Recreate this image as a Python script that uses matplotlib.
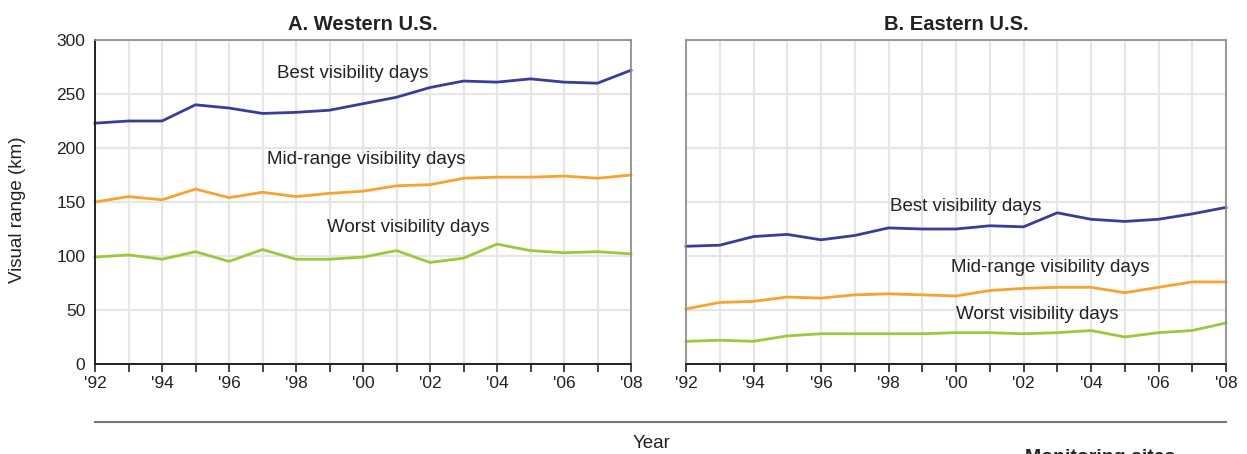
import matplotlib
matplotlib.use("Agg")
import matplotlib.pyplot as plt
import numpy as np

plt.rcParams['font.family'] = ['Liberation Sans', 'DejaVu Sans']

years = list(range(1992, 2009))
tick_years = list(range(1992, 2009, 2))
tick_labels = ["'92", "'94", "'96", "'98", "'00", "'02", "'04", "'06", "'08"]

west_best = [223, 225, 225, 240, 237, 232, 233, 235, 241, 247, 256, 262, 261, 264, 261, 260, 272]
west_mid = [150, 155, 152, 162, 154, 159, 155, 158, 160, 165, 166, 172, 173, 173, 174, 172, 175]
west_worst = [99, 101, 97, 104, 95, 106, 97, 97, 99, 105, 94, 98, 111, 105, 103, 104, 102]

east_best = [109, 110, 118, 120, 115, 119, 126, 125, 125, 128, 127, 140, 134, 132, 134, 139, 145]
east_mid = [51, 57, 58, 62, 61, 64, 65, 64, 63, 68, 70, 71, 71, 66, 71, 76, 76]
east_worst = [21, 22, 21, 26, 28, 28, 28, 28, 29, 29, 28, 29, 31, 25, 29, 31, 38]

C_BEST = '#3b3b9c'
C_MID = '#f7a231'
C_WORST = '#9cc83b'
TXT = '#222222'

fig = plt.figure(figsize=(12.47, 4.54), dpi=100)
axL = fig.add_axes([95/1247, 1-364/454, (631-95)/1247, 324/454])
axR = fig.add_axes([686/1247, 1-364/454, (1226-686)/1247, 324/454])

def style(ax, show_y):
    ax.set_xlim(1992, 2008)
    ax.set_ylim(0, 300)
    ax.set_xticks(years)
    ax.set_xticklabels([tick_labels[tick_years.index(y)] if y in tick_years else '' for y in years],
                       fontsize=12.5, color=TXT)
    ax.set_yticks([0, 50, 100, 150, 200, 250, 300])
    if show_y:
        ax.set_yticklabels(['0', '50', '100', '150', '200', '250', '300'], fontsize=12.5, color=TXT)
    else:
        ax.set_yticklabels([])
    ax.tick_params(axis='x', direction='out', length=6, width=1.2, color=TXT, pad=3)
    ax.tick_params(axis='y', length=0, pad=7)
    ax.grid(True, color='#e6e6e6', linewidth=1.6)
    ax.set_axisbelow(True)
    for s in ['top', 'right']:
        ax.spines[s].set_color('#888888')
        ax.spines[s].set_linewidth(1.2)
    ax.spines['bottom'].set_color(TXT)
    ax.spines['bottom'].set_linewidth(1.4)
    if show_y:
        ax.spines['left'].set_color(TXT)
        ax.spines['left'].set_linewidth(1.4)
    else:
        ax.spines['left'].set_color('#888888')
        ax.spines['left'].set_linewidth(1.2)

style(axL, True)
style(axR, False)

lw = 2.0
axL.plot(years, west_best, color=C_BEST, lw=lw, clip_on=False)
axL.plot(years, west_mid, color=C_MID, lw=lw, clip_on=False)
axL.plot(years, west_worst, color=C_WORST, lw=lw, clip_on=False)
axR.plot(years, east_best, color=C_BEST, lw=lw, clip_on=False)
axR.plot(years, east_mid, color=C_MID, lw=lw, clip_on=False)
axR.plot(years, east_worst, color=C_WORST, lw=lw, clip_on=False)

fs = 13.5
axL.text(1999.7, 269, 'Best visibility days', ha='center', va='center', fontsize=fs, color=TXT)
axL.text(2000.1, 189, 'Mid-range visibility days', ha='center', va='center', fontsize=fs, color=TXT)
axL.text(2001.35, 126, 'Worst visibility days', ha='center', va='center', fontsize=fs, color=TXT)
axR.text(2000.3, 146, 'Best visibility days', ha='center', va='center', fontsize=fs, color=TXT)
axR.text(2002.8, 89, 'Mid-range visibility days', ha='center', va='center', fontsize=fs, color=TXT)
axR.text(2002.4, 46, 'Worst visibility days', ha='center', va='center', fontsize=fs, color=TXT)

axL.set_title('A. Western U.S.', fontsize=14.5, fontweight='bold', color=TXT, pad=7)
axR.set_title('B. Eastern U.S.', fontsize=14.5, fontweight='bold', color=TXT, pad=7)

fig.text(18/1247, 1-210/454, 'Visual range (km)', rotation=90, ha='center', va='center',
         fontsize=13.5, color=TXT)

fig.add_artist(plt.Line2D([95/1247, 1226/1247], [1-422/454, 1-422/454], color='#777777', lw=1.5))
fig.text(652/1247, 1-444/454, 'Year', ha='center', va='center', fontsize=13.5, color=TXT)
fig.text(1025/1247, 1-449/454, 'Monitoring sites', ha='left', va='top', fontsize=14,
         fontweight='bold', color=TXT)

fig.savefig('out.png', dpi=100, facecolor='white')
